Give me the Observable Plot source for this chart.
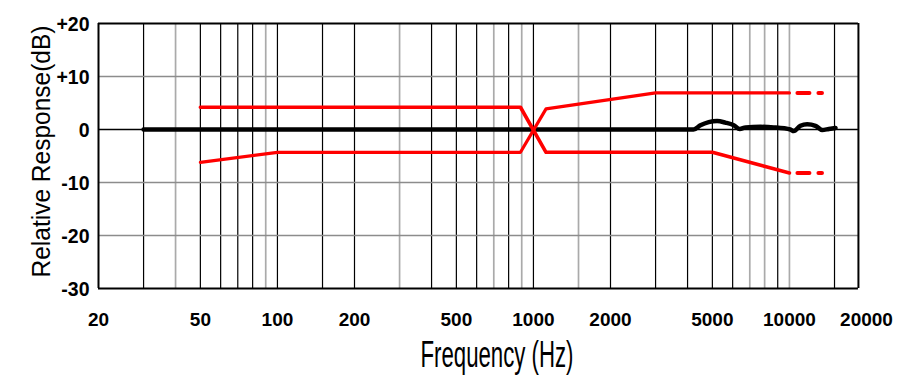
<!DOCTYPE html>
<html><head><meta charset="utf-8">
<script src="https://cdn.jsdelivr.net/npm/d3@7"></script>
<script src="https://cdn.jsdelivr.net/npm/@observablehq/plot@0.6"></script>
<style>body{margin:0;background:#fff} svg{display:block}</style>
</head><body><div id="chart"></div>
<script>
// Tick values and labels
const xTicks = [20, 50, 100, 200, 500, 1000, 2000, 5000, 10000, 20000];
const yTicks = [-30, -20, -10, 0, 10, 20];
const yTickLabels = ["-30", "-20", "-10", "0", "+10", "+20"];

// Grid lines (Hz / dB)
const gridDarkHz = [30, 50, 60, 70, 80, 100, 150, 200, 400, 500, 600, 800, 1000, 2000, 3000, 4000, 5000, 6000, 9000, 15000];
const gridLightHz = [40, 90, 300, 700, 900, 1500, 7000, 8000, 10000];
const gridLightDb = [-20, -10, 10];
const gridDarkDb = [0];
const frameHz = [20, 18600];
const frameDb = [-30, 20];

// Measured response (black)
const responseHz = [30, 4220, 4490, 4840, 5220, 5620, 6060, 6400, 6740, 7710, 8690, 10090, 10400, 11040, 11730, 12640, 13420, 14250, 15130];
const responseDb = [0, 0, 0.8, 1.4, 1.6, 1.3, 0.8, 0.1, 0.4, 0.5, 0.4, 0, -0.3, 0.7, 1.0, 0.7, -0.1, 0.1, 0.3];

// Tolerance limits (red)
const limitAHz = [50, 890, 1120, 5000, 10000];
const limitADb = [4.2, 4.2, -4.3, -4.3, -8.2];
const limitBHz = [50, 100, 890, 1120, 3000, 10000];
const limitBDb = [-6.2, -4.3, -4.3, 3.9, 6.9, 6.9];
const tailHz = [10000, 13400];
const tailADb = [-8.2, -8.2];
const tailBDb = [6.9, 6.9];

const zip = (xs, ys) => xs.map((f, i) => ({f, db: ys[i]}));
const response = zip(responseHz, responseDb);
const limitA = zip(limitAHz, limitADb);
const limitB = zip(limitBHz, limitBDb);
const tailA = zip(tailHz, tailADb);
const tailB = zip(tailHz, tailBDb);

const font = "'Liberation Sans', Arial, sans-serif";
const xTitle = "Frequency (Hz)";
const yTitle = "Relative Response(dB)";

const chart = Plot.plot({
  width: 906,
  height: 384,
  marginLeft: 98,
  marginRight: 40,
  marginTop: 23,
  marginBottom: 96,
  style: {fontFamily: font, background: "white", color: "black", overflow: "visible"},
  x: {type: "log", domain: [20, 20000], axis: null},
  y: {domain: [-30, 20], axis: null},
  marks: [
    Plot.ruleX(gridLightHz, {stroke: "#aaaaaa", strokeWidth: 1.7}),
    Plot.ruleX(gridDarkHz, {stroke: "#000", strokeWidth: 1.2}),
    Plot.ruleY(gridLightDb, {x1: () => frameHz[0], x2: () => frameHz[1], stroke: "#8c8c8c", strokeWidth: 1.6}),
    Plot.ruleY(gridDarkDb, {x1: () => frameHz[0], x2: () => frameHz[1], stroke: "#000", strokeWidth: 1.4}),
    Plot.ruleX(frameHz, {stroke: "#000", strokeWidth: 2}),
    Plot.ruleY(frameDb, {x1: () => frameHz[0], x2: () => frameHz[1], stroke: "#000", strokeWidth: 2}),
    Plot.text(xTicks, {x: d => d, frameAnchor: "bottom", lineAnchor: "top", dy: 24, text: d => String(d), fontSize: 19, fontWeight: "bold"}),
    Plot.text(yTicks, {y: d => d, frameAnchor: "left", textAnchor: "end", dx: -9, dy: 1.5, text: d => yTickLabels[yTicks.indexOf(d)], fontSize: 19.5, fontWeight: "bold"}),
    Plot.line(response, {x: "f", y: "db", stroke: "#000", strokeWidth: 4.5, curve: "monotone-x", strokeLinejoin: "round"}),
    Plot.line(limitA, {x: "f", y: "db", stroke: "#ff0000", strokeWidth: 3.6}),
    Plot.line(limitB, {x: "f", y: "db", stroke: "#ff0000", strokeWidth: 3.2}),
    Plot.line(tailA, {x: "f", y: "db", stroke: "#ff0000", strokeWidth: 4, strokeDasharray: "12,9", strokeDashoffset: 13}),
    Plot.line(tailB, {x: "f", y: "db", stroke: "#ff0000", strokeWidth: 4, strokeDasharray: "12,9", strokeDashoffset: 13}),
    Plot.text([xTitle], {text: d => d, frameAnchor: "bottom", dx: 14.5, dy: 78.5, fontSize: 36}),
    Plot.text([yTitle], {text: d => d, frameAnchor: "left", textAnchor: "middle", rotate: -90, dx: -56.5, dy: -4.5, fontSize: 26})
  ]
});

const sel = d3.select(chart).selectAll("text");
sel.filter(function () { return this.textContent === xTitle; })
  .attr("textLength", 153).attr("lengthAdjust", "spacingAndGlyphs");
sel.filter(function () { return this.textContent === yTitle; })
  .attr("textLength", 252).attr("lengthAdjust", "spacingAndGlyphs");

document.getElementById("chart").appendChild(chart);
</script>
</body></html>
